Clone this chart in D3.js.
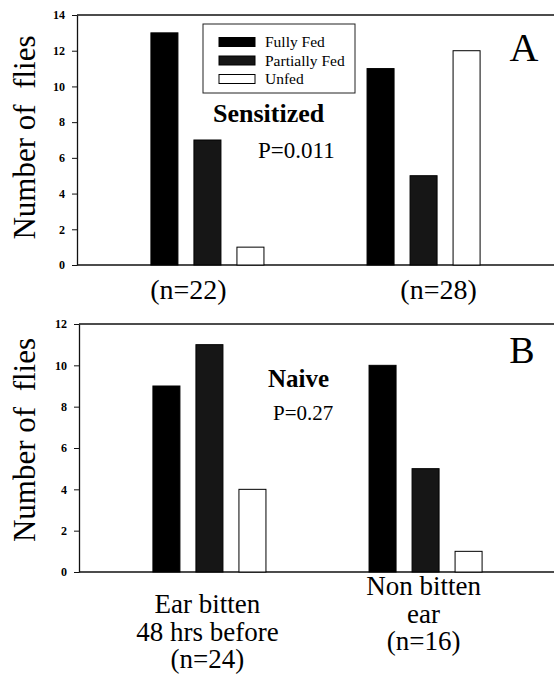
<!DOCTYPE html>
<html>
<head>
<meta charset="utf-8">
<script src="https://cdn.jsdelivr.net/npm/d3@7"></script>
<style>
  html, body { margin: 0; padding: 0; background: #fff; }
  svg { display: block; }
  svg text { font-family: "Liberation Serif", Tinos, "Times New Roman", "DejaVu Serif", serif !important; fill: #000; }
</style>
</head>
<body>
<svg id="chart" width="554" height="675" font-family="Liberation Serif, DejaVu Serif, serif"></svg>
<script>
const FONT = "'Liberation Serif', Tinos, 'Times New Roman', 'DejaVu Serif', serif";

// Feeding outcome series
const series = ["Fully Fed", "Partially Fed", "Unfed"];

// Panel A: sensitized hosts
const groupsA = ["(n=22)", "(n=28)"];
const fullyFedA = [13, 11];
const partiallyFedA = [7, 5];
const unfedA = [1, 12];
const ticksA = [0, 2, 4, 6, 8, 10, 12, 14];

// Panel B: naive hosts
const groupsB = [["Ear bitten", "48 hrs before", "(n=24)"], ["Non bitten", "ear", "(n=16)"]];
const fullyFedB = [9, 10];
const partiallyFedB = [11, 5];
const unfedB = [4, 1];
const ticksB = [0, 2, 4, 6, 8, 10, 12];

const fills = ["#000000", "#161616", "#ffffff"];

const svg = d3.select("#chart");

function label(sel) {
  return sel.attr("font-family", FONT).style("font-family", FONT);
}

function drawPanel(opts) {
  const { left, right, top, bottom, maxY, ticks, groupKeys, values } = opts;
  const g = svg.append("g");

  const y = d3.scaleLinear().domain([0, maxY]).range([bottom, top]);
  const x0 = d3.scaleBand().domain(groupKeys).range([left, right])
    .paddingInner(0.477).paddingOuter(0.342);
  const x1 = d3.scaleBand().domain(series).range([0, x0.bandwidth()])
    .paddingInner(0.372).paddingOuter(0);

  // frame: top and bottom rules running off the right edge
  g.append("line").attr("x1", left).attr("x2", right + 4).attr("y1", top).attr("y2", top)
    .attr("stroke", "#111").attr("stroke-width", 1.3);
  g.append("line").attr("x1", left).attr("x2", right + 4).attr("y1", bottom).attr("y2", bottom)
    .attr("stroke", "#111").attr("stroke-width", 1.3);

  // y axis
  const ax = g.append("g").attr("transform", `translate(${left},0)`)
    .call(d3.axisLeft(y).tickValues(ticks).tickSize(5).tickPadding(7).tickSizeOuter(0));
  ax.attr("font-family", FONT);
  ax.select(".domain").attr("stroke", "#111").attr("stroke-width", 1.3);
  ax.selectAll(".tick line").attr("stroke", "#111");
  label(ax.selectAll(".tick text"))
    .style("font-size", "12px").style("font-weight", "bold");

  // bars
  groupKeys.forEach((gk, gi) => {
    series.forEach((s, si) => {
      const v = values[si][gi];
      g.append("rect")
        .attr("x", x0(gk) + x1(s))
        .attr("y", y(v))
        .attr("width", x1.bandwidth())
        .attr("height", bottom - y(v))
        .attr("fill", fills[si])
        .attr("stroke", "#000")
        .attr("stroke-width", 1);
    });
  });

  return { g, x0, y };
}

// ---- Panel A ----
const pA = drawPanel({
  left: 77, right: 554, top: 15, bottom: 265, maxY: 14, ticks: ticksA,
  groupKeys: groupsA, values: [fullyFedA, partiallyFedA, unfedA]
});

// group labels under panel A
const shiftA = [-19, 15];
groupsA.forEach((gk, i) => {
  label(svg.append("text"))
    .attr("x", pA.x0(gk) + pA.x0.bandwidth() / 2 + shiftA[i])
    .attr("y", 299)
    .attr("text-anchor", "middle")
    .style("font-size", "28px")
    .text(gk);
});

label(svg.append("text")).attr("transform", "translate(35,137.5) rotate(-90)")
  .attr("text-anchor", "middle").style("font-size", "31px")
  .style("white-space", "pre").text("Number of  flies");

label(svg.append("text")).attr("x", 524).attr("y", 61).attr("text-anchor", "middle")
  .style("font-size", "40px").text("A");
label(svg.append("text")).attr("x", 213).attr("y", 122)
  .style("font-size", "26px").style("font-weight", "bold").text("Sensitized");
label(svg.append("text")).attr("x", 258).attr("y", 158)
  .style("font-size", "23px").text("P=0.011");

// legend
const legend = svg.append("g");
legend.append("rect").attr("x", 203).attr("y", 24).attr("width", 152).attr("height", 69)
  .attr("fill", "#fff").attr("stroke", "#222").attr("stroke-width", 1);
series.forEach((s, i) => {
  const cy = 42 + i * 18.5;
  legend.append("rect").attr("x", 219).attr("y", cy - 4.5).attr("width", 36).attr("height", 9)
    .attr("fill", fills[i]).attr("stroke", "#000").attr("stroke-width", 1);
  label(legend.append("text")).attr("x", 265).attr("y", cy + 5)
    .style("font-size", "15.5px").text(s);
});

// ---- Panel B ----
const pB = drawPanel({
  left: 79, right: 556, top: 324, bottom: 572, maxY: 12, ticks: ticksB,
  groupKeys: groupsB.map(d => d.join(" ")), values: [fullyFedB, partiallyFedB, unfedB]
});

const firstBaseline = [613, 595];
groupsB.forEach((lines, i) => {
  const key = lines.join(" ");
  const cx = pB.x0(key) + pB.x0.bandwidth() / 2 - 2;
  lines.forEach((ln, j) => {
    label(svg.append("text"))
      .attr("x", cx)
      .attr("y", firstBaseline[i] + j * 27.5)
      .attr("text-anchor", "middle")
      .style("font-size", "27px")
      .text(ln);
  });
});

label(svg.append("text")).attr("transform", "translate(35,440) rotate(-90)")
  .attr("text-anchor", "middle").style("font-size", "31px")
  .style("white-space", "pre").text("Number of  flies");

label(svg.append("text")).attr("x", 522).attr("y", 363).attr("text-anchor", "middle")
  .style("font-size", "38px").text("B");
label(svg.append("text")).attr("x", 268).attr("y", 387)
  .style("font-size", "25px").style("font-weight", "bold").text("Naive");
label(svg.append("text")).attr("x", 273).attr("y", 420)
  .style("font-size", "21px").text("P=0.27");
</script>
</body>
</html>
